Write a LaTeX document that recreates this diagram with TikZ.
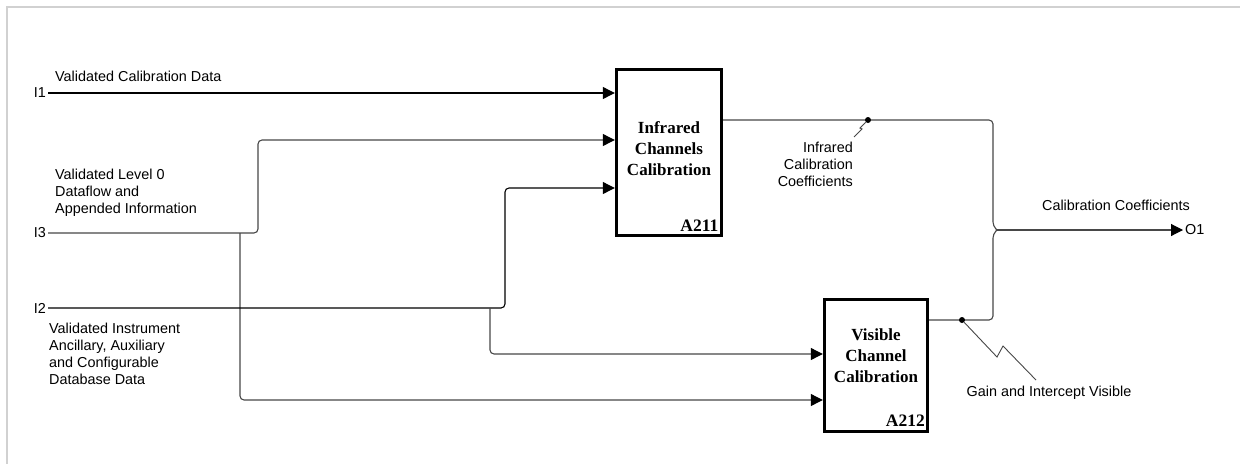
\documentclass[tikz,border=0pt]{standalone}
\usepackage{fontspec}
\setmainfont{Liberation Sans}
\newfontfamily\boxfont{Liberation Serif}
\usetikzlibrary{arrows.meta}
\begin{document}
\begin{tikzpicture}[x=1pt,y=-1pt,
  flow/.style={draw=black!72, line width=1.1pt, rounded corners=4pt},
  arr/.style={flow, -{Triangle[length=12pt,width=12pt,sharp,color=black,fill=black]}},
  act/.style={draw=black, line width=3.4pt, inner sep=0pt, fill=white},
  boxtxt/.style={font=\boxfont\bfseries\fontsize{17}{21}\selectfont, align=center, inner sep=0pt},
  boxnum/.style={font=\boxfont\bfseries\fontsize{17.5}{18}\selectfont, inner sep=0pt, anchor=south east},
  lbl/.style={font=\fontsize{14.4}{17}\selectfont, inner sep=0pt, align=left},
  port/.style={font=\fontsize{14.4}{17}\selectfont, inner ysep=0pt, inner xsep=2pt},
  dot/.style={circle, fill=black, inner sep=0pt, minimum size=6pt},
  squig/.style={draw=black!72, line width=0.9pt}]
\useasboundingbox (0,0) rectangle (1240,464);
\draw[black!18, line width=1.6pt] (1240,7) -- (7,7) -- (7,464);

% activity boxes
\node[act, minimum width=105pt, minimum height=166pt] (a211) at (669,152.5) {};
\node[boxtxt] (a211t) at (669,149) {Infrared\\Channels\\Calibration};
\node[boxnum] (a211n) at (718.5,231.5) {A211};
\node[act, minimum width=103pt, minimum height=132pt] (a212) at (876,365.5) {};
\node[boxtxt] (a212t) at (876,356) {Visible\\Channel\\Calibration};
\node[boxnum] (a212n) at (925,427) {A212};

% ports
\node[port, anchor=east] (i1) at (48,93) {I1};
\node[port, anchor=east] (i3) at (48,233) {I3};
\node[port, anchor=east] (i2) at (48,308) {I2};
\node[port, anchor=west] (o1) at (1183,230) {O1};

% labels
\node[lbl, anchor=north west] (li1) at (55,71) {Validated Calibration Data};
\node[lbl, anchor=north west] (li3) at (55,169) {Validated Level 0\\Dataflow and\\Appended Information};
\node[lbl, anchor=north west] (li2) at (49,323) {Validated Instrument\\Ancillary, Auxiliary\\and Configurable\\Database Data};
\node[lbl, anchor=north east, align=right] (lirc) at (853,142) {Infrared\\Calibration\\Coefficients};
\node[lbl, anchor=north] (lgiv) at (1049,386) {Gain and Intercept Visible};
\node[lbl, anchor=north] (lo1) at (1116,200) {Calibration Coefficients};

% bend coordinates
\coordinate (b3a) at (258,233);
\coordinate (b3b) at (258,140);
\coordinate (b3c) at (240,233);
\coordinate (b3d) at (240,400);
\coordinate (b2a) at (505,308);
\coordinate (b2b) at (505,188);
\coordinate (b2c) at (490,308);
\coordinate (b2d) at (490,354);
\coordinate (m1) at (993,120);
\coordinate (m2) at (993,320);
\coordinate (mj) at (997,230);
\coordinate (o1a) at (a211.east |- m1);
\coordinate (o2a) at (a212.east |- m2);

% inputs
\draw[arr, draw=black] (i1.east) -- (a211.west |- i1);
\draw[arr] (i3.east) -- (b3a) -- (b3b) -- (a211.west |- b3b);
\draw[arr] (b3c) -- (b3d) -- (a212.west |- b3d);
\draw[arr, draw=black] (i2.east) -- (b2a) -- (b2b) -- (a211.west |- b2b);
\draw[arr] (b2c) -- (b2d) -- (a212.west |- b2d);

% outputs
\draw[flow] (o1a) -- (m1) -- (993,226) -- (mj);
\draw[flow] (o2a) -- (m2) -- (993,234) -- (mj);
\draw[arr] (mj) -- (o1.west);

% dots and squiggles
\node[dot] (d1) at (868,120) {};
\node[dot] (d2) at (962,320) {};
\coordinate (s1a) at (860,128);
\coordinate (s1b) at (862,129);
\coordinate (s1c) at (854,137);
\draw[squig] (d1) -- (s1a) -- (s1b) -- (s1c);
\coordinate (s2a) at (997,357);
\coordinate (s2b) at (1003,346);
\coordinate (s2c) at (1036,380);
\draw[squig] (d2) -- (s2a) -- (s2b) -- (s2c);
\end{tikzpicture}
\end{document}
